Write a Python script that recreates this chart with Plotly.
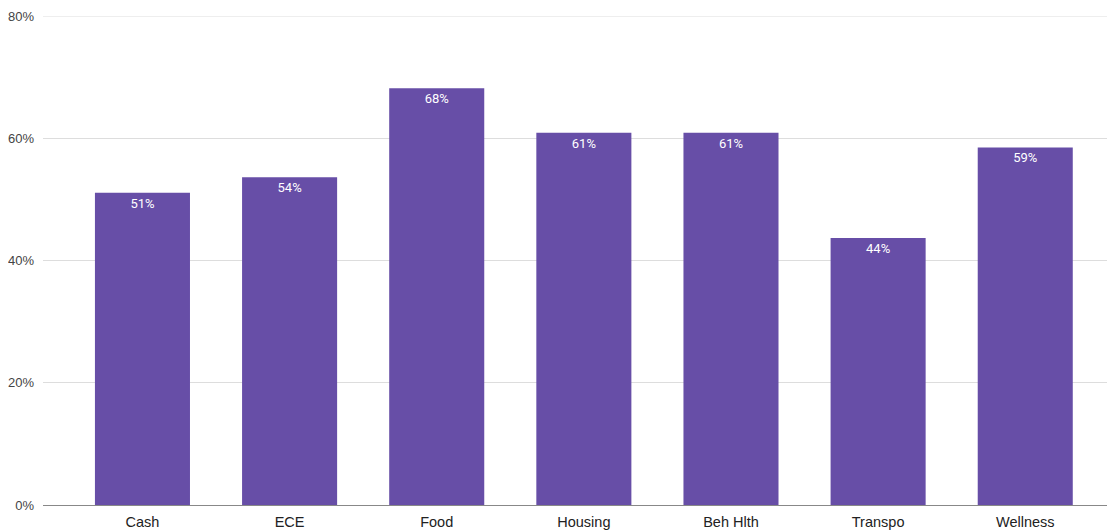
import plotly.graph_objects as go

categories = ["Cash", "ECE", "Food", "Housing", "Beh Hlth", "Transpo", "Wellness"]
values = [0.511, 0.536, 0.682, 0.609, 0.609, 0.437, 0.585]
labels = ["51%", "54%", "68%", "61%", "61%", "44%", "59%"]
y_ticks = [0, 0.2, 0.4, 0.6, 0.8]
y_tick_text = ["0%", "20%", "40%", "60%", "80%"]

fig = go.Figure(go.Bar(
    x=list(range(len(categories))), y=values, text=labels,
    textposition="inside", insidetextanchor="end",
    textfont=dict(family="Roboto", size=13, color="white"),
    marker=dict(color="#674ea7", line=dict(width=0)),
    width=0.646, cliponaxis=False,
))
fig.update_layout(
    width=1107, height=523,
    margin=dict(l=35, r=0, t=8, b=26),
    paper_bgcolor="white", plot_bgcolor="white",
    showlegend=False,
    xaxis=dict(tickmode="array", tickvals=list(range(len(categories))), ticktext=categories,
               range=[-0.676, 6.61], showgrid=False, zeroline=False, showline=False,
               ticklabelstandoff=6,
               tickfont=dict(family="Liberation Sans, Arial", size=14.5, color="#222222"), ticks=""),
    yaxis=dict(range=[0, 0.8], tickvals=y_ticks, ticktext=y_tick_text,
               showgrid=True, gridcolor="#dddddd", zeroline=True, zerolinecolor="#888888",
               zerolinewidth=1, showline=False, ticks="", ticklabelstandoff=8,
               tickfont=dict(family="Liberation Sans, Arial", size=13, color="#444444")),
    shapes=[dict(type="line", xref="paper", yref="y", x0=0, x1=1, y0=0.8, y1=0.8,
                 line=dict(color="#dddddd", width=1), layer="below")],
)
fig.write_html("out.html")
